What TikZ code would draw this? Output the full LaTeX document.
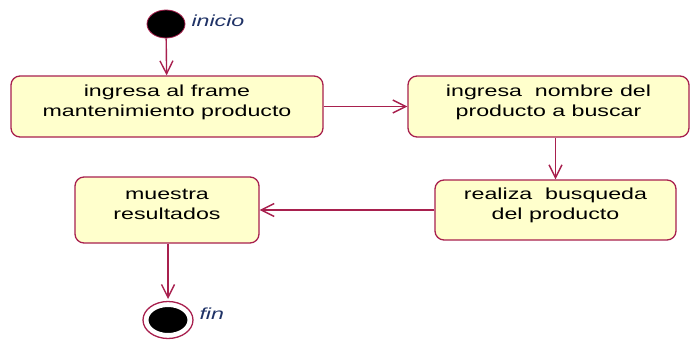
\documentclass[tikz,border=0pt]{standalone}
\usepackage{fontspec}
\setmainfont{Liberation Sans}[FakeStretch=1.45]
\usetikzlibrary{arrows.meta,positioning,shapes.geometric,calc}
\definecolor{wine}{HTML}{A8204E}
\definecolor{cream}{HTML}{FFFFCC}
\definecolor{navy}{HTML}{1F3266}
\tikzset{
  activity/.style={rectangle,rounded corners=9pt,draw=wine,line width=1.3pt,fill=cream,align=center,inner sep=4pt,text depth=12pt,font=\fontsize{16}{20}\selectfont},
  startdot/.style={ellipse,fill=black,draw=wine,line width=0.8pt,minimum width=38pt,minimum height=28pt,inner sep=0pt},
  enddot/.style={ellipse,fill=black,draw=white,line width=3pt,minimum width=42pt,minimum height=29pt,inner sep=0pt},
  flow/.style={-{Straight Barb[length=13pt,width=13pt]},line width=1.4pt,wine},
  statelabel/.style={font=\fontsize{16}{20}\selectfont\itshape,text=navy,anchor=west}
}
\begin{document}
\begin{tikzpicture}[x=1pt,y=-1pt]
    \useasboundingbox (0,0) rectangle (691,340);
    \node[startdot] (inicio) at (166,24) {};
    \node[statelabel] (inicioLbl) at (188,21) {inicio};
    \node[activity,minimum width=312pt,minimum height=61pt] (frame) at (167,106.5) {ingresa al frame\\mantenimiento producto};
    \node[activity,minimum width=281pt,minimum height=61pt] (nombre) at (548.5,106.5) {ingresa \ nombre del\\producto a buscar};
    \node[activity,minimum width=241pt,minimum height=60pt] (busqueda) at (555.5,210) {realiza \ busqueda\\del producto};
    \node[activity,minimum width=184pt,minimum height=66pt] (muestra) at (167,210) {muestra\\resultados};
    \draw[wine,line width=1.3pt] (168,320) ellipse (25pt and 18.5pt);
    \node[enddot] (fin) at (168,320) {};
    \node[statelabel] (finLbl) at (196,314) {fin};
    \draw[flow] (inicio) -- (frame);
    \draw[flow] (frame) -- (nombre);
    \draw[flow] (busqueda.north |- nombre.south) -- (busqueda.north);
    \draw[flow] (busqueda) -- (muestra);
    \draw[flow] (muestra.south -| fin.north) -- ($(fin.north)+(0,-5)$);
  \end{tikzpicture}
\end{document}
